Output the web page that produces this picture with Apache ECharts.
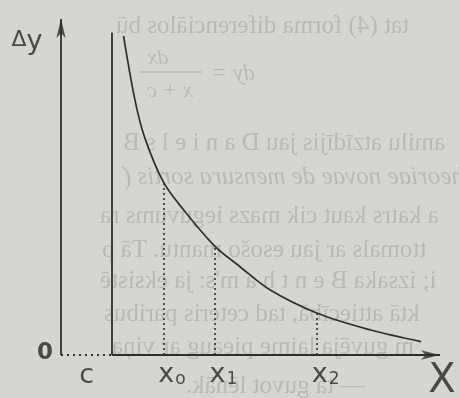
<!DOCTYPE html>
<html>
<head>
<meta charset="utf-8">
<script src="https://cdn.jsdelivr.net/npm/echarts@6/dist/echarts.min.js"></script>
<style>
html, body { margin: 0; padding: 0; background: #d6d6d1; }
#chart { width: 459px; height: 398px; }
</style>
</head>
<body>
<div id="chart"></div>
<script>
// hand drawn curve (axis units 0..100)
var curveX = [16.5, 19.5, 22, 27, 32.5, 40.5, 47, 55, 67.5, 81.5, 95];
var curveY = [95, 76, 65, 51.5, 43, 32.5, 26.5, 19.5, 12.5, 7.5, 4];
// asymptote x = c
var cX = 13.5;
var cTop = 96;
// dotted ordinates at x0, x1, x2
var guideX = [27, 40.5, 67.5];
var guideTop = [51.5, 32.5, 12.5];
var guideSubs = ['o', '1', '2'];
var axisMax = 100;

// text of the back page showing through the paper (mirrored)
var backText = [
    'tat (4) forma diferenciālos bū',
    'amilu atzīdījis jau D a n i e l s B',
    'theoriae novae de mensura sortis (',
    'a katrs kaut cik mazs ieguvums ra',
    'ttomals ar jau esošo mantu. Tā p',
    'i; izsaka B e n t h a m\'s: ja eksistē',
    'ktā attiecībā, tad ceteris paribus',
    'm guvēja laime pieaug ar viņa',
    '— tā guvot lēnāk.'
];
var backLeft = [116, 123, 123, 100, 102, 100, 104, 112, 186];
var backY = [26, 143, 177, 216, 250, 281, 314, 347, 386];

var ink = '#2e2e2e';
var ghost = '#b9b9b3';
var font = '"DejaVu Sans", sans-serif';

var myChart = echarts.init(document.getElementById('chart'));

var curveData = curveX.map(function (x, i) { return [x, curveY[i]]; });

var dotted = {color: ink, width: 1.6, type: [2, 3]};
var lines = [
    [{coord: [0, 0]}, {coord: [0, axisMax]}],
    [{coord: [cX, 0]}, {coord: [axisMax, 0]}],
    [{coord: [cX, 0]}, {coord: [cX, cTop]}],
    [{coord: [0, 0], lineStyle: {color: ink, width: 2, type: [2, 4]}}, {coord: [cX, 0]}]
];
guideX.forEach(function (x, i) {
    lines.push([{coord: [x, 0], lineStyle: dotted}, {coord: [x, guideTop[i]]}]);
});

var labels = [
    {value: [0, axisMax], label: {formatter: '{d|Δ}{y|y}', offset: [-34, 21]}},
    {value: [0, 0], label: {formatter: '{n|0}', offset: [-16, -2]}},
    {value: [cX / 2, 0], label: {formatter: '{m|c}', offset: [0, 21]}},
    {value: [axisMax, 0], label: {formatter: '{b|X}', offset: [2, 27]}}
];
guideX.forEach(function (x, i) {
    labels.push({value: [x, 0], label: {formatter: '{m|x}{s|' + guideSubs[i] + '}', align: 'left', offset: [-5, 20]}});
});

var graphic = backText.map(function (t, i) {
    return {
        type: 'text', x: backLeft[i], y: backY[i], scaleX: -1, z: 0, silent: true,
        style: {
            text: t, align: 'right', verticalAlign: 'middle', fill: ghost,
            font: (i === 2 ? 'italic ' : '') + '25px "Liberation Serif", serif'
        }
    };
});
// mirrored formula  dy = dx/(x+c)
graphic.push(
    {type: 'text', x: 158, y: 58, scaleX: -1, silent: true,
        style: {text: 'dx', align: 'center', verticalAlign: 'middle', fill: ghost, font: 'italic 22px "Liberation Serif", serif'}},
    {type: 'text', x: 170, y: 91, scaleX: -1, silent: true,
        style: {text: 'x + c', align: 'center', verticalAlign: 'middle', fill: ghost, font: 'italic 22px "Liberation Serif", serif'}},
    {type: 'text', x: 212, y: 74, scaleX: -1, silent: true,
        style: {text: 'dy =', align: 'right', verticalAlign: 'middle', fill: ghost, font: 'italic 23px "Liberation Serif", serif'}},
    {type: 'line', silent: true, shape: {x1: 140, y1: 72, x2: 202, y2: 72}, style: {stroke: ghost, lineWidth: 1.5}}
);

myChart.setOption({
    backgroundColor: '#d6d6d1',
    animation: false,
    graphic: graphic,
    grid: {left: 61, right: 19, top: 19, bottom: 43},
    xAxis: {
        type: 'value', min: 0, max: axisMax,
        axisLine: {show: false}, axisTick: {show: false},
        axisLabel: {show: false}, splitLine: {show: false}
    },
    yAxis: {
        type: 'value', min: 0, max: axisMax,
        axisLine: {show: false}, axisTick: {show: false},
        axisLabel: {show: false}, splitLine: {show: false}
    },
    series: [
        {
            type: 'line',
            data: curveData,
            smooth: 0.35,
            showSymbol: false,
            silent: true,
            lineStyle: {color: ink, width: 1.7},
            markLine: {
                silent: true,
                symbol: ['none', 'none'],
                label: {show: false},
                lineStyle: {color: ink, width: 1.8, type: 'solid'},
                data: lines
            }
        },
        {
            // arrow heads of the axes
            type: 'scatter',
            silent: true,
            symbol: 'arrow',
            symbolSize: [7, 19],
            itemStyle: {color: ink},
            data: [
                {value: [0, axisMax], symbolRotate: 0},
                {value: [axisMax, 0], symbolRotate: -90}
            ]
        },
        {
            type: 'scatter',
            silent: true,
            symbolSize: 0,
            label: {
                show: true,
                position: 'inside',
                color: '#262626',
                fontFamily: font,
                rich: {
                    d: {fontSize: 22, color: '#262626', fontFamily: font},
                    y: {fontSize: 27, color: '#262626', fontFamily: font, padding: [4, 0, 0, 0]},
                    n: {fontSize: 23, color: '#262626', fontFamily: font, fontWeight: 'bold'},
                    m: {fontSize: 27, color: '#262626', fontFamily: font},
                    s: {fontSize: 17, color: '#262626', fontFamily: font, verticalAlign: 'bottom', padding: [0, 0, 0, 1]},
                    b: {fontSize: 40, color: '#262626', fontFamily: font}
                }
            },
            data: labels
        }
    ]
});
</script>
</body>
</html>
